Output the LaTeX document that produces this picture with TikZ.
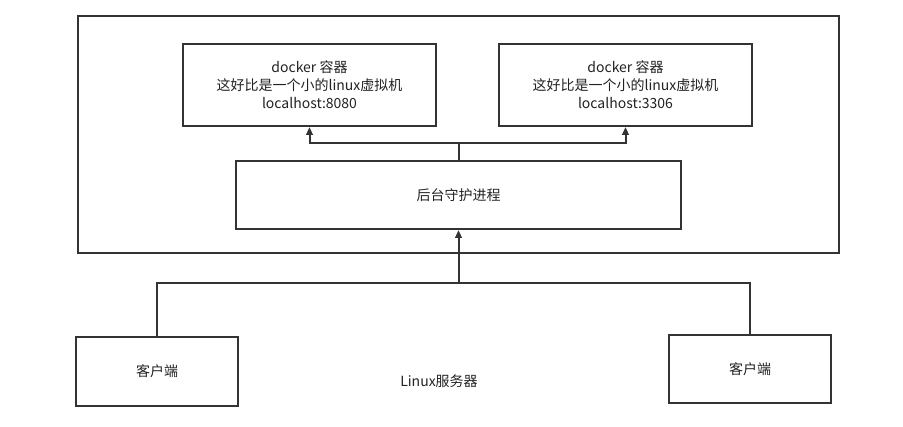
\documentclass[tikz,border=0pt]{standalone}
\usepackage{fontspec}
\setmainfont{Noto Sans CJK SC}
\usepackage{xcolor}
\usetikzlibrary{arrows.meta,positioning}
\definecolor{linegray}{RGB}{51,51,51}
\definecolor{textgray}{RGB}{34,34,34}

\begin{document}
\begin{tikzpicture}[x=0.75pt,y=-0.75pt,>={Triangle[length=6pt,width=5pt]},every node/.style={font=\fontsize{10.5}{13.5}\selectfont,text=textgray}]
\tikzstyle{box}=[draw=linegray,line width=1.5pt,fill=white,align=center,inner sep=0pt]
\tikzstyle{container}=[box,minimum width=189.75pt,minimum height=61.5pt]
\tikzstyle{client}=[box,minimum width=121.5pt,minimum height=51.5pt]
\tikzstyle{link}=[draw=linegray,line width=1.5pt]
\useasboundingbox (0,0) rectangle (903,427);
\node[box,minimum width=570.75pt,minimum height=177.75pt] (host) at (458.5,134.5) {};
\node[container] (c1) at (309.5,85) {docker 容器\\这好比是一个小的linux虚拟机\\localhost:8080};
\node[container] (c2) at (625.5,85) {docker 容器\\这好比是一个小的linux虚拟机\\localhost:3306};
\node[box,minimum width=333.75pt,minimum height=51pt] (dm) at (458.5,195) {后台守护进程};
\node[client] (k1) at (157,371.5) {客户端};
\node[client] (k2) at (750,369) {客户端};
\node (lx) at (439,381) {Linux服务器};
\coordinate (split) at (dm.north |- 0,143);
\coordinate (merge) at (dm.south |- 0,283);
\draw[link] (dm.north) -- (split);
\draw[link,->] (split) -| (c1.south);
\draw[link,->] (split) -| (c2.south);
\draw[link] (k1.north) |- (merge);
\draw[link] (k2.north) |- (merge);
\draw[link,->] (merge) -- (dm.south);
\end{tikzpicture}
\end{document}
